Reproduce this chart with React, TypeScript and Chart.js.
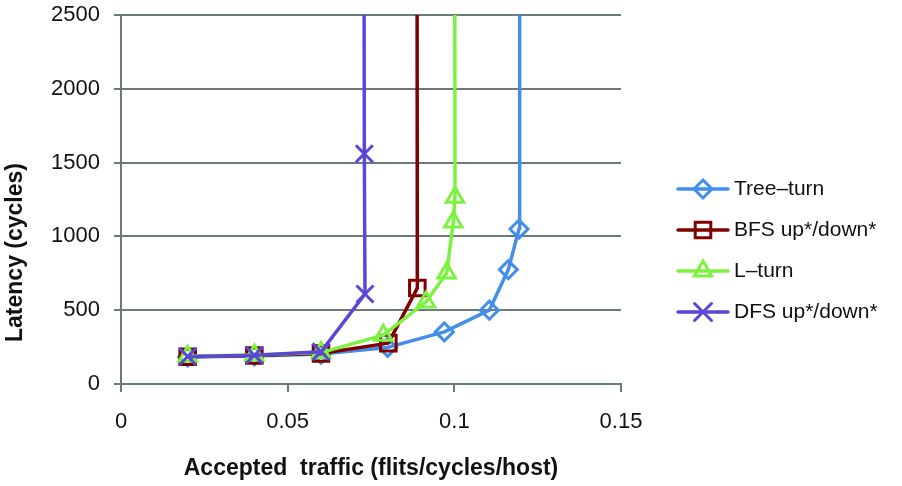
import React, { useEffect, useRef } from 'react';
import { Chart, registerables } from 'chart.js';
import { drawPoint } from 'chart.js/helpers';

Chart.register(...registerables);

const FONT = '"Liberation Sans", Arial, Helvetica, sans-serif';
const GRID = '#6B7A7A';
const TEXT = '#111111';

// Accepted traffic (flits/cycles/host) and latency (cycles) per routing scheme.
// The final entry of each series is the saturated latency, well above the plotted range.
const treeTurnX = [0.02, 0.04, 0.06, 0.08, 0.097, 0.1105, 0.1162, 0.1194, 0.1196];
const treeTurnY = [183, 190, 203, 248, 353, 500, 775, 1050, 6000];

const bfsX = [0.02, 0.04, 0.06, 0.0802, 0.0889, 0.0887];
const bfsY = [185, 193, 207, 277, 650, 6000];

const lTurnX = [0.02, 0.04, 0.06, 0.0787, 0.0915, 0.0977, 0.0997, 0.1002, 0.1];
const lTurnY = [188, 196, 213, 331, 556, 752, 1097, 1266, 6000];

const dfsX = [0.02, 0.04, 0.06, 0.0732, 0.073, 0.0727];
const dfsY = [186, 195, 218, 610, 1560, 6000];

const seriesLabels = ['Tree–turn', 'BFS up*/down*', 'L–turn', 'DFS up*/down*'];
const seriesColors = ['#438EEA', '#800000', '#7DF23E', '#5B47D5'];
const seriesMarkers = ['rectRot', 'rect', 'triangle', 'crossRot'];
const markerSizes = [9, 11, 10, 12];

const xTickLabels = ['0', '0.05', '0.1', '0.15'];
const yTickLabels = ['0', '500', '1000', '1500', '2000', '2500'];

const xAxisTitle = 'Accepted  traffic (flits/cycles/host)';
const yAxisTitle = 'Latency (cycles)';

const toPoints = (xs: number[], ys: number[]) => xs.map((x, i) => ({ x, y: ys[i] }));

const seriesPoints = [
  toPoints(treeTurnX, treeTurnY),
  toPoints(bfsX, bfsY),
  toPoints(lTurnX, lTurnY),
  toPoints(dfsX, dfsY),
];

// Vertical axis title, placed a little below the plot's mid-height.
const latencyTitle = {
  id: 'latencyTitle',
  afterDraw(chart: any) {
    const { ctx, chartArea } = chart;
    ctx.save();
    ctx.translate(16, (chartArea.top + chartArea.bottom) / 2 + 53);
    ctx.rotate(-Math.PI / 2);
    ctx.fillStyle = TEXT;
    ctx.font = `bold 23px ${FONT}`;
    ctx.textAlign = 'center';
    ctx.textBaseline = 'middle';
    ctx.fillText(yAxisTitle, 0, 0);
    ctx.restore();
  },
};

// Legend drawn as "line with marker" samples, one row per series.
const lineMarkerLegend = {
  id: 'lineMarkerLegend',
  afterDraw(chart: any) {
    const { ctx, chartArea } = chart;
    const x0 = chartArea.right + 57;
    const lineLen = 50;
    const rowGap = 41;
    const yStart = chartArea.top + 174;
    chart.data.datasets.forEach((ds: any, i: number) => {
      const y = yStart + i * rowGap;
      ctx.save();
      ctx.lineCap = 'round';
      ctx.strokeStyle = ds.borderColor;
      ctx.lineWidth = ds.borderWidth;
      ctx.beginPath();
      ctx.moveTo(x0, y);
      ctx.lineTo(x0 + lineLen, y);
      ctx.stroke();
      ctx.fillStyle = 'rgba(255,255,255,0)';
      ctx.strokeStyle = ds.pointBorderColor;
      ctx.lineWidth = ds.pointBorderWidth;
      drawPoint(
        ctx,
        { pointStyle: ds.pointStyle, radius: ds.pointRadius, borderWidth: ds.pointBorderWidth, rotation: 0 },
        x0 + lineLen / 2,
        y
      );
      ctx.fillStyle = TEXT;
      ctx.font = `21px ${FONT}`;
      ctx.textBaseline = 'middle';
      ctx.textAlign = 'left';
      ctx.fillText(ds.label, x0 + lineLen + 6, y);
      ctx.restore();
    });
  },
};

export default function App() {
  const ref = useRef<HTMLCanvasElement>(null);

  useEffect(() => {
    const canvas = ref.current;
    if (!canvas) return;
    const chart = new Chart(canvas, {
      type: 'line',
      data: {
        datasets: seriesPoints.map((pts, i) => ({
          label: seriesLabels[i],
          data: pts,
          borderColor: seriesColors[i],
          borderWidth: 3.5,
          borderJoinStyle: 'round' as const,
          borderCapStyle: 'round' as const,
          tension: 0,
          pointStyle: seriesMarkers[i] as any,
          pointRadius: markerSizes[i],
          pointBorderColor: seriesColors[i],
          pointBackgroundColor: 'rgba(255,255,255,0)',
          pointBorderWidth: 3,
          fill: false,
          order: 4 - i,
        })),
      },
      options: {
        responsive: false,
        animation: false,
        events: [],
        layout: { padding: { top: 14, right: 281, bottom: 0, left: 0 } },
        plugins: {
          legend: { display: false },
          tooltip: { enabled: false },
        },
        scales: {
          x: {
            type: 'linear',
            min: 0,
            max: 0.15,
            ticks: {
              stepSize: 0.05,
              padding: 17,
              color: TEXT,
              font: { family: FONT, size: 22 },
              maxRotation: 0,
              callback: (_v: any, i: number) => xTickLabels[i],
            },
            grid: {
              drawOnChartArea: false,
              drawTicks: true,
              tickLength: 8,
              color: GRID,
              lineWidth: 2,
            },
            border: { display: true, color: GRID, width: 2 },
            title: {
              display: true,
              text: xAxisTitle,
              color: TEXT,
              font: { family: FONT, size: 23, weight: 'bold' },
              padding: { top: 4, bottom: 4 },
            },
            afterFit: (scale: any) => {
              scale.height = 102;
            },
          },
          y: {
            type: 'linear',
            min: 0,
            max: 2500,
            ticks: {
              stepSize: 500,
              padding: 14,
              color: TEXT,
              font: { family: FONT, size: 22 },
              callback: (_v: any, i: number) => yTickLabels[i],
            },
            grid: {
              drawOnChartArea: true,
              drawTicks: true,
              tickLength: 7,
              color: GRID,
              lineWidth: 2,
            },
            border: { display: true, color: GRID, width: 2 },
            title: { display: false },
            afterFit: (scale: any) => {
              scale.width = 121;
              scale.paddingTop = 0;
              scale.paddingBottom = 0;
            },
          },
        },
      },
      plugins: [lineMarkerLegend, latencyTitle],
    });
    return () => chart.destroy();
  }, []);

  return (
    <div style={{ position: 'fixed', left: 0, top: 0, width: 902, height: 486, background: '#ffffff' }}>
      <canvas ref={ref} width={902} height={486} style={{ display: 'block' }} />
    </div>
  );
}
